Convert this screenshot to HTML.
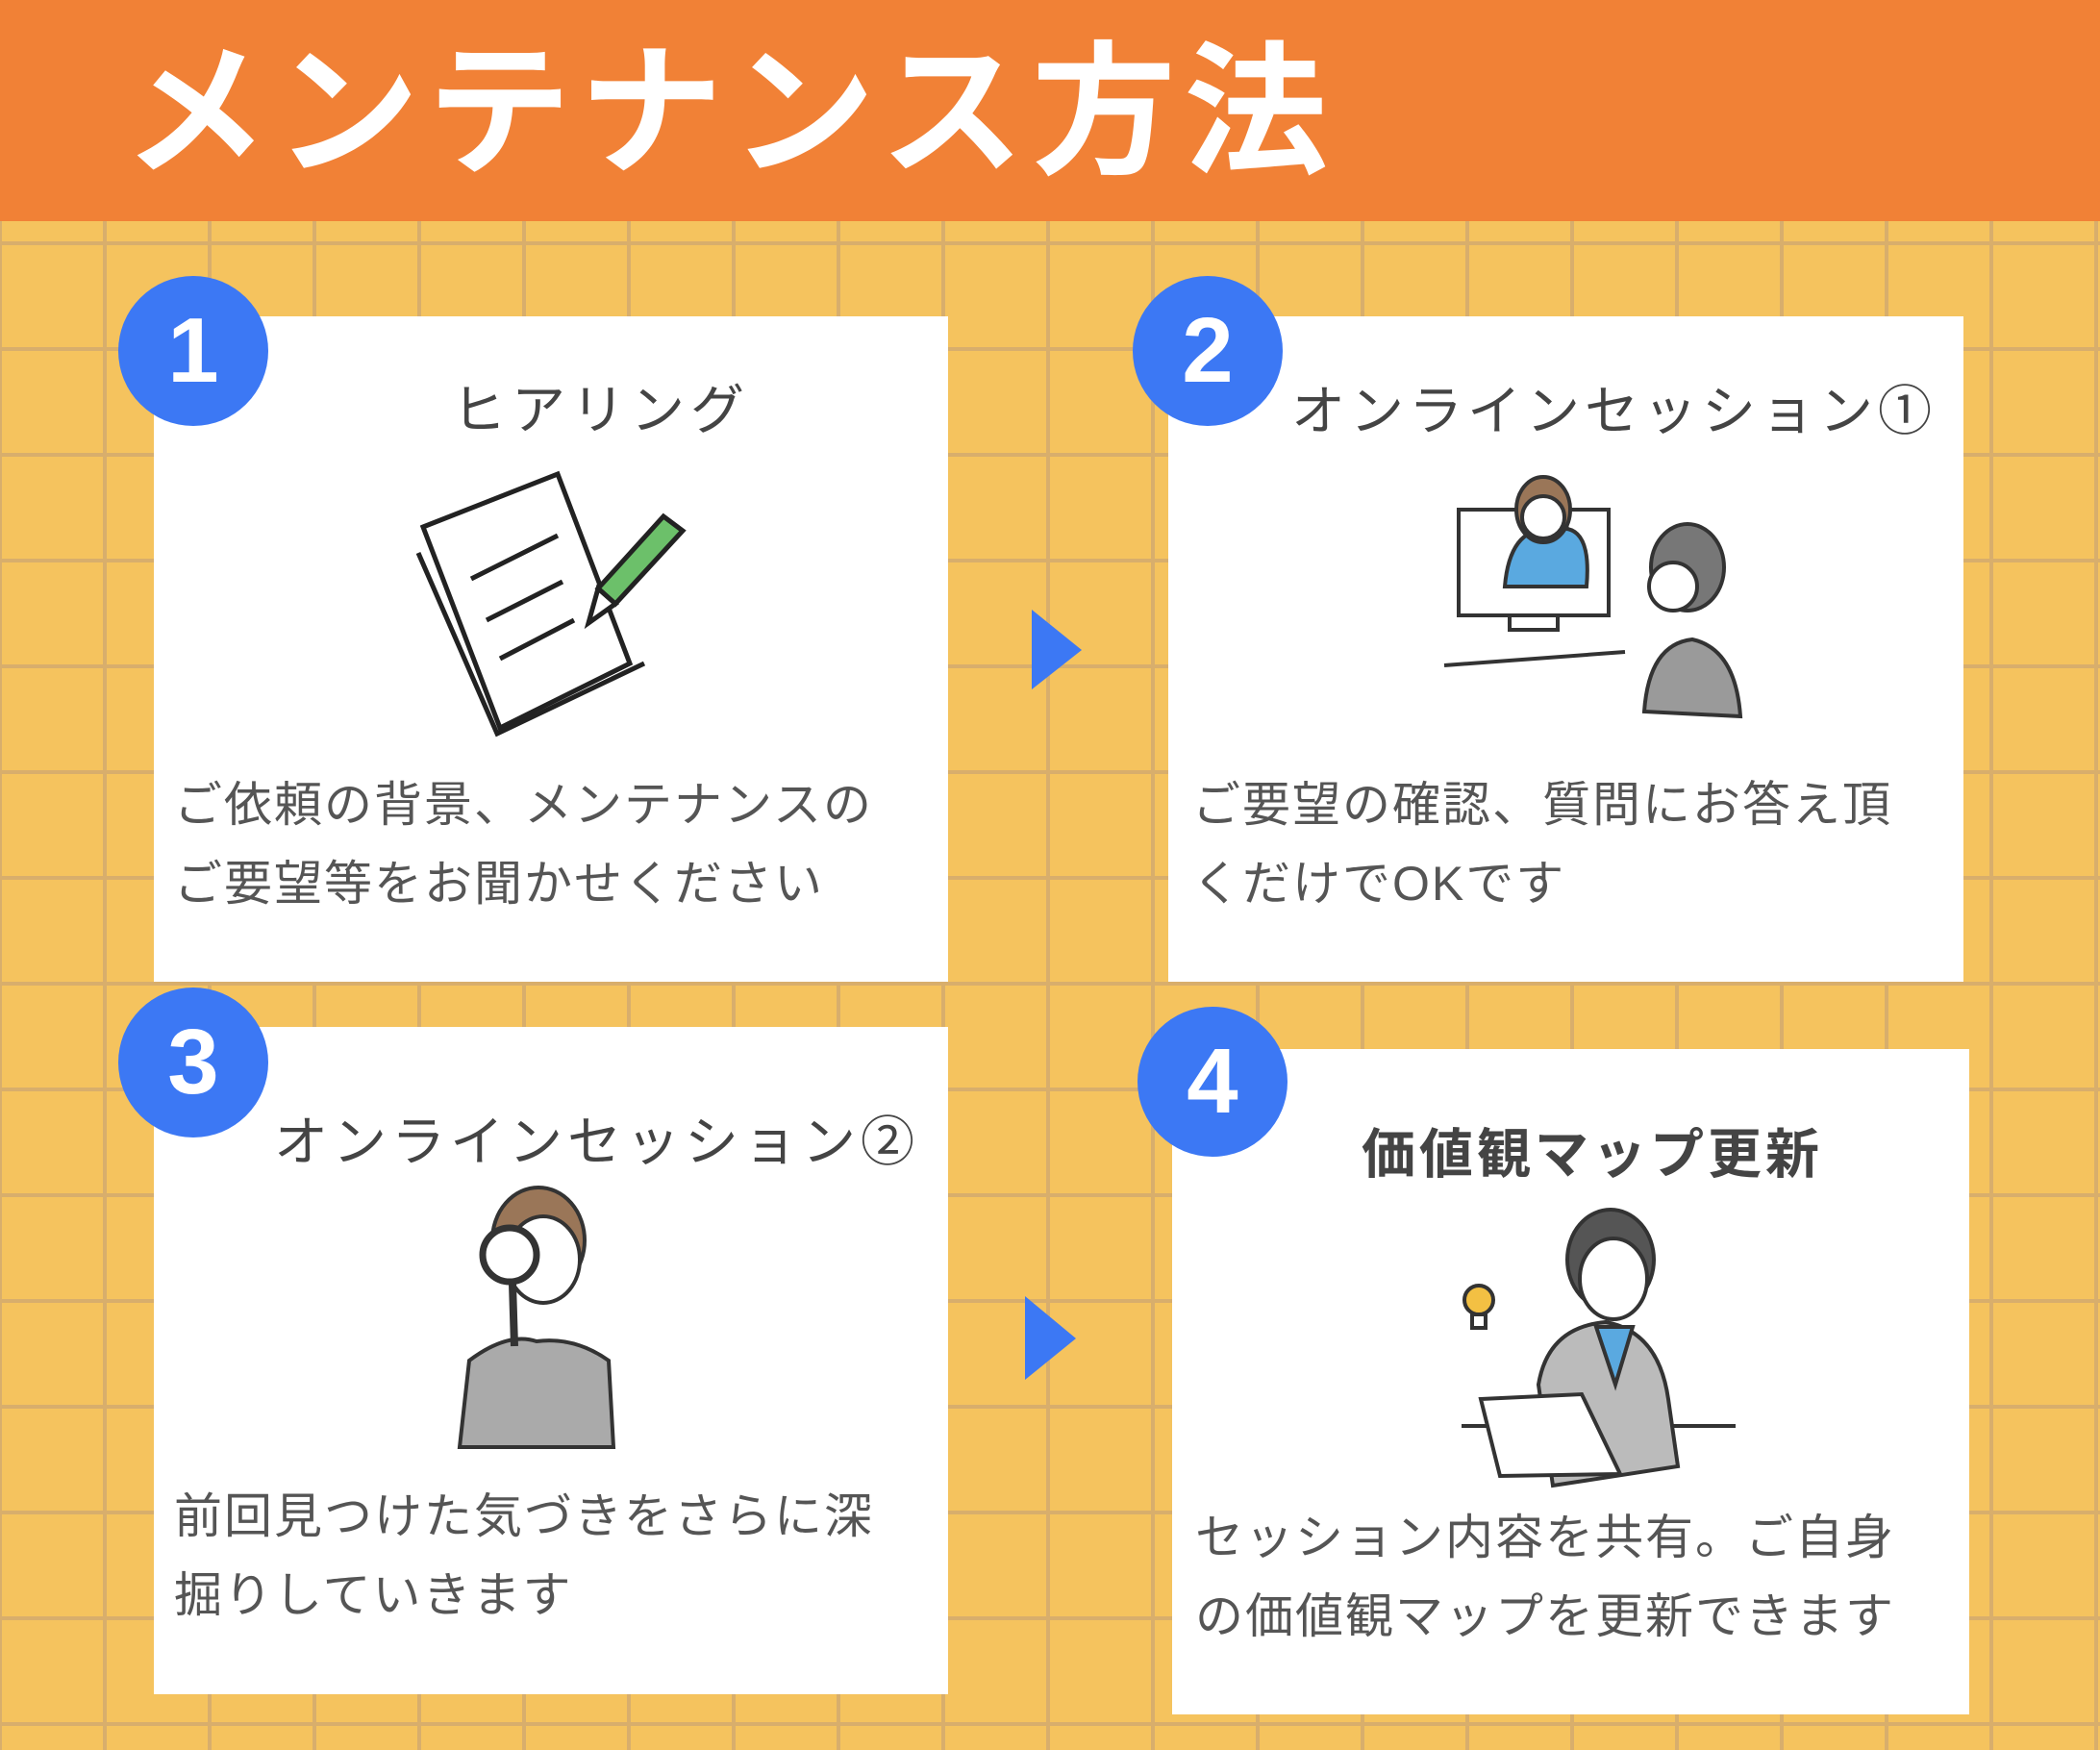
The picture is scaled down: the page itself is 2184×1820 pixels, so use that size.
<!DOCTYPE html>
<html><head><meta charset="utf-8"><style>
*{margin:0;padding:0;box-sizing:border-box}
body{width:2184px;height:1820px;position:relative;overflow:hidden;background:#f5c35e;font-family:"Liberation Sans","Noto Sans CJK JP",sans-serif}
.grid{position:absolute;left:0;top:230px;width:2184px;height:1590px;
background-image:linear-gradient(to right,#d8ae6c 4px,transparent 4px),linear-gradient(to bottom,#d8ae6c 4px,transparent 4px);
background-size:109px 110px;background-position:-2px 21px}
.hdr{position:absolute;left:0;top:0;width:2184px;height:230px;background:#f18136}
.hdr span{position:absolute;left:128px;top:22px;font-size:150px;font-weight:bold;color:#fff;letter-spacing:8px;line-height:190px;white-space:nowrap}
.card{position:absolute;background:#fff}
.num{position:absolute;width:156px;height:156px;border-radius:50%;background:#3c78f4;color:#fff;font-weight:bold;font-size:96px;text-align:center;line-height:156px}
.t{position:absolute;font-size:56px;color:#444;white-space:nowrap;letter-spacing:6px;line-height:70px}
.b{position:absolute;font-size:50px;color:#555;white-space:nowrap;line-height:82px;letter-spacing:2px}
svg{position:absolute;left:0;top:0}
</style></head><body>
<div class="grid"></div>
<div class="hdr"><span>メンテナンス方法</span></div>

<div class="card" style="left:160px;top:329px;width:826px;height:692px"></div>
<div class="card" style="left:1215px;top:329px;width:827px;height:692px"></div>
<div class="card" style="left:160px;top:1068px;width:826px;height:694px"></div>
<div class="card" style="left:1219px;top:1091px;width:829px;height:692px"></div>

<div class="num" style="left:123px;top:287px">1</div>
<div class="num" style="left:1178px;top:287px">2</div>
<div class="num" style="left:123px;top:1027px">3</div>
<div class="num" style="left:1183px;top:1047px">4</div>

<div class="t" style="left:470px;top:392px">ヒアリング</div>
<div class="t" style="left:1343px;top:393px;letter-spacing:5px">オンラインセッション①</div>
<div class="t" style="left:285px;top:1153px;letter-spacing:5px">オンラインセッション②</div>
<div class="t" style="left:1416px;top:1166px;font-weight:bold;letter-spacing:4px">価値観マップ更新</div>

<div class="b" style="left:181px;top:796px">ご依頼の背景、メンテナンスの<br>ご要望等をお聞かせください</div>
<div class="b" style="left:1240px;top:796px">ご要望の確認、質問にお答え頂<br>くだけでOKです</div>
<div class="b" style="left:181px;top:1536px">前回見つけた気づきをさらに深<br>掘りしていきます</div>
<div class="b" style="left:1243px;top:1558px">セッション内容を共有。ご自身<br>の価値観マップを更新できます</div>

<svg width="2184" height="1820" viewBox="0 0 2184 1820">
<polygon points="1073,634 1073,717 1125,676" fill="#3c78f4"/>
<polygon points="1066,1348 1066,1435 1119,1392" fill="#3c78f4"/>
<!-- notepad -->
<g fill="none" stroke="#222" stroke-width="5">
<polygon points="440,548 580,493 655,690 520,757" fill="#fff"/>
<polyline points="435,575 517,763 670,690"/>
<line x1="490" y1="602" x2="580" y2="557"/>
<line x1="506" y1="645" x2="585" y2="605"/>
<line x1="520" y1="685" x2="597" y2="645"/>
<polygon points="690,537 710,552 640,628 622,612" fill="#6cc06a"/>
<polygon points="622,612 640,628 612,648" fill="#fff"/>
</g>
<!-- card2 -->
<g stroke="#333" stroke-width="4">
<rect x="1517" y="530" width="156" height="110" fill="#fff"/>
<rect x="1570" y="640" width="50" height="15" fill="#fff"/>
<line x1="1502" y1="692" x2="1690" y2="678"/>
<path d="M1565,610 q5,-60 45,-60 q15,-20 20,0 q25,5 20,60 z" fill="#5aa9e0"/>
<ellipse cx="1605" cy="530" rx="28" ry="34" fill="#9a7658"/>
<circle cx="1605" cy="538" r="22" fill="#fff"/>
<ellipse cx="1755" cy="590" rx="38" ry="45" fill="#777"/>
<circle cx="1740" cy="610" r="25" fill="#fff"/>
<path d="M1710,740 q5,-70 50,-75 q45,10 50,80 z" fill="#9a9a9a"/>
</g>
<!-- card3 -->
<g stroke="#333" stroke-width="4">
<path d="M478,1505 l10,-90 q40,-30 70,-20 q40,-5 75,20 l5,90 z" fill="#aaa"/>
<ellipse cx="560" cy="1290" rx="48" ry="55" fill="#9a7658"/>
<ellipse cx="565" cy="1310" rx="38" ry="45" fill="#fff"/>
<circle cx="530" cy="1305" r="28" fill="#fff" stroke-width="7"/>
<line x1="533" y1="1335" x2="535" y2="1400" stroke-width="8"/>
</g>
<!-- card4 -->
<g stroke="#333" stroke-width="4">
<line x1="1520" y1="1483" x2="1805" y2="1483"/>
<path d="M1600,1440 q10,-60 70,-65 q55,10 65,80 l10,70 l-130,20 z" fill="#bbb"/>
<path d="M1660,1380 l20,60 l18,-60 z" fill="#5aa9e0"/>
<ellipse cx="1675" cy="1310" rx="45" ry="52" fill="#555"/>
<ellipse cx="1678" cy="1330" rx="35" ry="42" fill="#fff"/>
<polygon points="1540,1455 1645,1450 1685,1533 1560,1535" fill="#fff"/>
<circle cx="1538" cy="1352" r="15" fill="#f3c043"/>
<rect x="1531" y="1367" width="14" height="14" fill="#fff"/>
</g>
</svg>
</body></html>
